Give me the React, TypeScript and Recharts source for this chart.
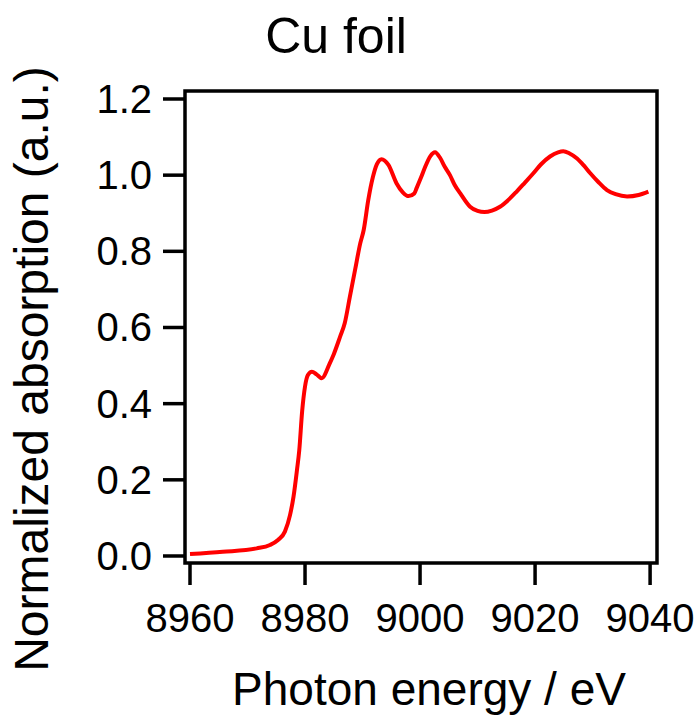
import { LineChart, Line, XAxis, YAxis, ReferenceArea } from 'recharts';

const energy = [
  8960, 8965.7, 8971.6, 8973.9, 8975.3, 8976.5, 8977.4, 8978, 8978.6, 8979, 8979.5,
  8980, 8980.5, 8981.2, 8982, 8982.9, 8984.3, 8985, 8986.1, 8986.9, 8987.8,
  8988.7, 8989.6, 8990.2, 8991, 8991.8, 8992.5, 8993.3, 8994.5, 8995.9, 8997, 8998,
  8999, 8999.4, 9000.2, 9000.9, 9001.8, 9002.6, 9003.5, 9004.3, 9005.2, 9006, 9007,
  9008.7, 9010, 9011.2, 9012.5, 9013.9, 9015.5, 9016.8, 9018.2, 9019.7, 9021, 9022.6,
  9024, 9024.9, 9026, 9027.3, 9028.5, 9029.6, 9031, 9032.5, 9034, 9036, 9038, 9039.7,
];

const absorption = [
  0.005, 0.011, 0.02, 0.029, 0.042, 0.064, 0.108, 0.156, 0.226, 0.278, 0.38,
  0.445, 0.475, 0.484, 0.477, 0.467, 0.506, 0.53, 0.576, 0.611, 0.681,
  0.751, 0.821, 0.856, 0.935, 0.995, 1.029, 1.042, 1.027, 0.979, 0.955, 0.945,
  0.952, 0.966, 0.995, 1.022, 1.05, 1.06, 1.045, 1.022, 1.0, 0.975, 0.952,
  0.917, 0.906, 0.903, 0.907, 0.917, 0.937, 0.957, 0.98, 1.005, 1.028, 1.049,
  1.06, 1.063, 1.057, 1.044, 1.025, 1.005, 0.982, 0.961, 0.95, 0.944, 0.948, 0.957,
];

const xTicks = [8960, 8980, 9000, 9020, 9040];
const yTicks = [0, 0.2, 0.4, 0.6, 0.8, 1.0, 1.2];

const data = energy.map((e, i) => ({ e, v: absorption[i] }));

const font = 'Liberation Sans, Arial, Helvetica, sans-serif';
const xDomain: [number, number] = [8959.13, 9041.2];
const yDomain: [number, number] = [-0.0184, 1.221];
const tickStyle = { stroke: '#000', strokeWidth: 3.5 };

// x tick: short stroke down from the axis, then the number below it
const XTick = (props: any) => {
  const { x, y, payload } = props;
  return (
    <g>
      <line x1={x} y1={y - 2} x2={x} y2={y + 20} {...tickStyle} />
      <text x={x} y={y + 67} textAnchor="middle" fontSize={40} fontFamily={font} fill="#000">
        {payload.value}
      </text>
    </g>
  );
};

const YTick = (props: any) => {
  const { x, y, payload } = props;
  return (
    <g>
      <line x1={x + 2} y1={y} x2={x - 20} y2={y} {...tickStyle} />
      <text x={x - 31} y={y + 14} textAnchor="end" fontSize={40} fontFamily={font} fill="#000">
        {Number(payload.value).toFixed(1)}
      </text>
    </g>
  );
};

export default function App() {
  return (
    <div style={{ position: 'absolute', left: 0, top: 0, width: 700, height: 716, background: '#fff' }}>
      <LineChart
        width={700}
        height={716}
        data={data}
        margin={{ top: 91, right: 43, bottom: 93, left: 125 }}
        style={{ fontFamily: font }}
      >
        <XAxis
          dataKey="e"
          type="number"
          domain={xDomain}
          ticks={xTicks}
          height={60}
          axisLine={false}
          tickLine={false}
          tickSize={0}
          tick={<XTick />}
          interval={0}
          allowDataOverflow
        />
        <YAxis
          type="number"
          domain={yDomain}
          ticks={yTicks}
          width={60}
          axisLine={false}
          tickLine={false}
          tickSize={0}
          tick={<YTick />}
          interval={0}
          allowDataOverflow
        />
        <ReferenceArea
          x1={xDomain[0]}
          x2={xDomain[1]}
          y1={yDomain[0]}
          y2={yDomain[1]}
          fill="none"
          fillOpacity={0}
          stroke="#000"
          strokeWidth={3.5}
          ifOverflow="visible"
        />
        <Line
          type="monotone"
          dataKey="v"
          stroke="#ff0000"
          strokeWidth={4}
          dot={false}
          isAnimationActive={false}
        />
      </LineChart>
      <svg
        width={700}
        height={716}
        style={{ position: 'absolute', left: 0, top: 0, pointerEvents: 'none' }}
      >
        <text x={336} y={53} textAnchor="middle" fontSize={50} fontFamily={font} fill="#000">
          Cu foil
        </text>
        <text x={429} y={705} textAnchor="middle" fontSize={46} fontFamily={font} fill="#000">
          Photon energy / eV
        </text>
        <text
          x={48}
          y={369}
          textAnchor="middle"
          fontSize={48}
          fontFamily={font}
          fill="#000"
          transform="rotate(-90, 48, 369)"
        >
          Normalized absorption (a.u.)
        </text>
      </svg>
    </div>
  );
}
